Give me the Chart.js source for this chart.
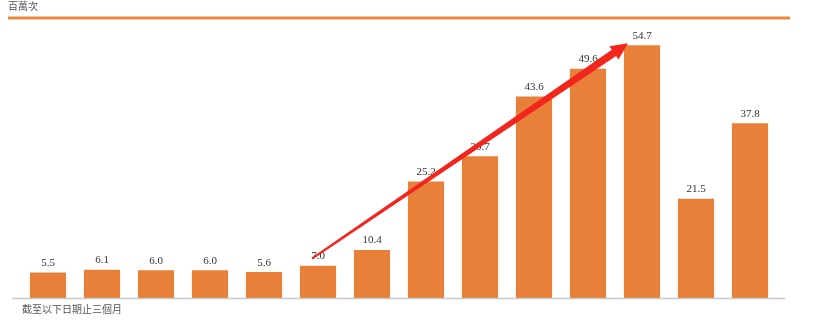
<!DOCTYPE html>
<html>
<head>
<meta charset="utf-8">
<script src="https://cdn.jsdelivr.net/npm/chart.js@4"></script>
<style>
  html, body { margin: 0; padding: 0; background: #fff; }
  #wrap { width: 830px; height: 322px; position: relative; }
</style>
</head>
<body>
<div id="wrap"><canvas id="barChart" width="830" height="322"></canvas></div>
<script>
// data
var periods = ['Q1','Q2','Q3','Q4','Q5','Q6','Q7','Q8','Q9','Q10','Q11','Q12','Q13','Q14'];
var values = [5.5, 6.1, 6.0, 6.0, 5.6, 7.0, 10.4, 25.2, 30.7, 43.6, 49.6, 54.7, 21.5, 37.8];
var unitText = '百萬次';
var noteText = '截至以下日期止三個月';

var barColor = '#E8803A';

// titles, top rule, bottom axis line, value labels and the red arrow
var decor = {
  id: 'decor',
  beforeDraw: function(chart) {
    var c = chart.ctx;
    c.save();
    c.fillStyle = '#555';
    c.font = '10px "Noto Sans CJK TC"';
    c.textBaseline = 'middle';
    c.fillText(unitText, 8, 6);
    c.strokeStyle = '#EA8A3E';
    c.lineWidth = 3;
    c.beginPath();
    c.moveTo(8, 18);
    c.lineTo(790, 18);
    c.stroke();
    c.restore();
  },
  afterDatasetsDraw: function(chart) {
    var c = chart.ctx;
    var xs = chart.scales.x, ys = chart.scales.y;
    c.save();
    // axis line
    c.strokeStyle = '#c8c8c8';
    c.lineWidth = 1.5;
    c.beginPath();
    c.moveTo(12, ys.getPixelForValue(0) + 0.5);
    c.lineTo(785, ys.getPixelForValue(0) + 0.5);
    c.stroke();

    // value labels
    c.fillStyle = '#333';
    c.font = '11px "Liberation Serif"';
    c.textAlign = 'center';
    c.textBaseline = 'bottom';
    var meta = chart.getDatasetMeta(0);
    meta.data.forEach(function(bar, i) {
      c.fillText(values[i].toFixed(1), bar.x, bar.y - 4);
    });

    // note under the axis
    c.fillStyle = '#555';
    c.font = '10px "Noto Sans CJK TC"';
    c.textAlign = 'left';
    c.textBaseline = 'middle';
    c.fillText(noteText, 22, 309);

    // red arrow from 7.0 to 54.7
    var x0 = xs.getPixelForValue(5) - 6, y0 = ys.getPixelForValue(values[5]) - 7;
    var x1 = xs.getPixelForValue(11) - 14, y1 = ys.getPixelForValue(values[11]) - 2;
    var dx = x1 - x0, dy = y1 - y0;
    var len = Math.sqrt(dx * dx + dy * dy);
    var ux = dx / len, uy = dy / len, nx = -uy, ny = ux;
    var headLen = 17, headW = 8;
    var bx = x1 - ux * headLen, by = y1 - uy * headLen;
    var w0 = 1, w1 = 3.8;
    c.fillStyle = '#F2261C';
    c.beginPath();
    c.moveTo(x0 + nx * w0, y0 + ny * w0);
    c.lineTo(bx + nx * w1, by + ny * w1);
    c.lineTo(bx + nx * headW, by + ny * headW);
    c.lineTo(x1, y1);
    c.lineTo(bx - nx * headW, by - ny * headW);
    c.lineTo(bx - nx * w1, by - ny * w1);
    c.lineTo(x0 - nx * w0, y0 - ny * w0);
    c.closePath();
    c.fill();
    c.restore();
  }
};

var ctx = document.getElementById('barChart').getContext('2d');
var chart = new Chart(ctx, {
  type: 'bar',
  data: {
    labels: periods,
    datasets: [{
      data: values,
      backgroundColor: barColor,
      borderWidth: 0,
      categoryPercentage: 1.0,
      barPercentage: 0.67
    }]
  },
  options: {
    responsive: false,
    animation: false,
    layout: { padding: { left: 21, right: 53, top: 30, bottom: 24 } },
    plugins: { legend: { display: false }, tooltip: { enabled: false } },
    scales: {
      x: { display: false },
      y: { display: false, min: 0, max: 58 }
    }
  },
  plugins: [decor]
});
</script>
</body>
</html>
